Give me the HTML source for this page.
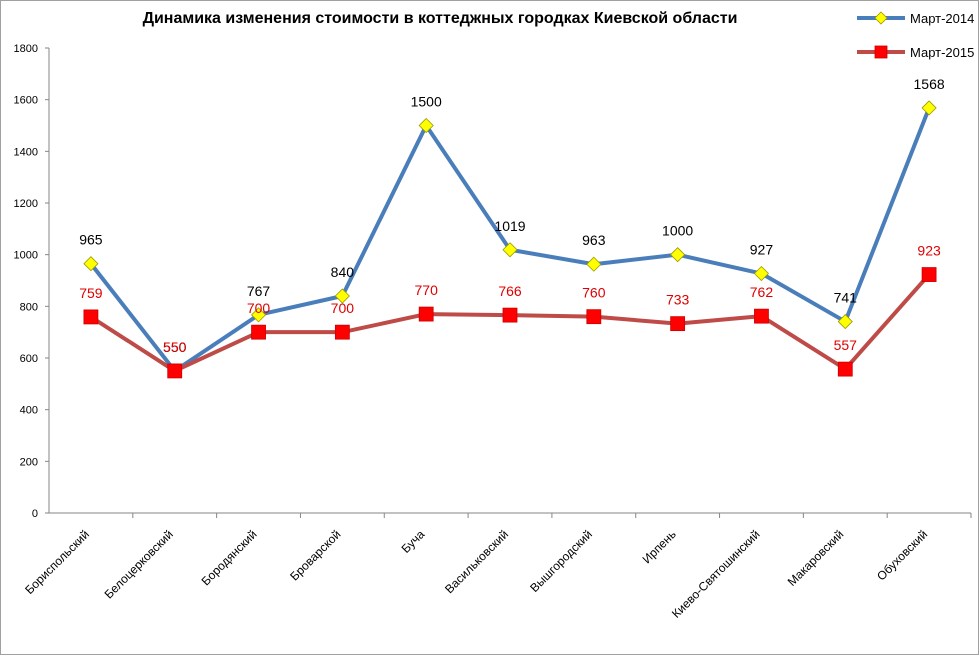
<!DOCTYPE html>
<html><head><meta charset="utf-8">
<style>
body{margin:0;background:#fff;}
svg{display:block;font-family:"Liberation Sans","DejaVu Sans",sans-serif;}
</style></head>
<body>
<svg id="chart" width="980" height="656" viewBox="0 0 980 656" xmlns="http://www.w3.org/2000/svg">
<rect x="0.5" y="0.5" width="978" height="654" fill="#fff" stroke="#a0a0a0"/>
<text x="440" y="23" text-anchor="middle" font-size="16" font-weight="bold">Динамика изменения стоимости в коттеджных городках Киевской области</text>
<g id="axes"></g>
<g id="series"></g>
<g>
<g>
<line x1="857" y1="18" x2="905" y2="18" stroke="#4a7ebb" stroke-width="4"/>
<polygon points="881,12 887,18 881,24 875,18" fill="#ffff00" stroke="#999900" stroke-width="0.8"/>
<text x="910" y="23" font-size="13">Март-2014</text>
</g>
<g>
<line x1="857" y1="52" x2="905" y2="52" stroke="#be4b48" stroke-width="4"/>
<rect x="875" y="46" width="12" height="12" fill="#ff0000" stroke="#cc0000" stroke-width="0.8"/>
<text x="910" y="57" font-size="13">Март-2015</text>
</g>
</g>
</svg>
<script>
const categories=["Бориспольский","Белоцерковский","Бородянский","Броварской","Буча","Васильковский","Вышгородский","Ирпень","Киево-Святошинский","Макаровский","Обуховский"];
const series2014=[965,550,767,840,1500,1019,963,1000,927,741,1568];
const series2015=[759,550,700,700,770,766,760,733,762,557,923];
const yTicks=[0,200,400,600,800,1000,1200,1400,1600,1800];
const NS="http://www.w3.org/2000/svg";
const x0=49,x1=971,yBase=513,yTop=48,yMax=1800;
const step=(x1-x0)/categories.length;
function xs(i){return x0+step*(i+0.5);}
function ys(v){return yBase-(v/yMax)*(yBase-yTop);}
function mk(tag,attrs,parent){const e=document.createElementNS(NS,tag);for(const k in attrs)e.setAttribute(k,attrs[k]);parent.appendChild(e);return e;}
const ax=document.getElementById('axes');
const yAxis=mk('line',{x1:x0,y1:yTop,x2:x0,y2:yBase,stroke:'#868686'},ax);


const xAxis=mk('line',{x1:x0,y1:yBase,x2:x1,y2:yBase,stroke:'#868686'},ax);


yTicks.forEach(v=>{
  mk('line',{x1:x0-4,y1:ys(v),x2:x0,y2:ys(v),stroke:'#868686'},ax);
  const t=mk('text',{x:x0-11,y:ys(v)+4,'text-anchor':'end','font-size':11},ax);
  t.textContent=v;
  
  
});
categories.forEach((c,i)=>{
  const tx=x0+step*(i+1);
  mk('line',{x1:tx,y1:yBase,x2:tx,y2:yBase+5,stroke:'#868686'},ax);
  const x=xs(i)-1,y=yBase+22;
  const t=mk('text',{x:x,y:y,'text-anchor':'end','font-size':12,transform:`rotate(-45 ${x} ${y})`},ax);
  t.textContent=c;
  
  
});
const sg=document.getElementById('series');
function drawSeries(vals,color,kind,labelColor,name){
  const g=mk('g',{},sg);
  
  
  const pts=vals.map((v,i)=>xs(i)+','+ys(v)).join(' ');
  const pl=mk('polyline',{points:pts,fill:'none',stroke:color,'stroke-width':4,'stroke-linejoin':'round'},g);
  
  
  vals.forEach((v,i)=>{
    const x=xs(i),y=ys(v);let m;
    if(kind==='diamond'){m=mk('polygon',{points:`${x},${y-7} ${x+7},${y} ${x},${y+7} ${x-7},${y}`,fill:'#ffff00',stroke:'#999900','stroke-width':0.8},g);}
    else{m=mk('rect',{x:x-7,y:y-7,width:14,height:14,fill:'#ff0000',stroke:'#cc0000','stroke-width':0.8},g);}
    
    
    const t=mk('text',{x:x,y:y-19,'text-anchor':'middle','font-size':14,fill:labelColor},g);
    t.textContent=v;
    
    
  });
}
drawSeries(series2014,'#4a7ebb','diamond','#000','series-2014');
drawSeries(series2015,'#be4b48','square','#e00000','series-2015');
</script>
</body></html>
